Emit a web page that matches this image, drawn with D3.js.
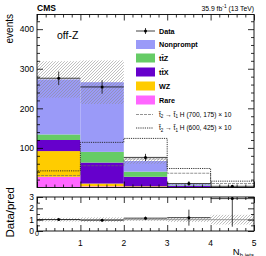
<!DOCTYPE html>
<html lang="en">
<head>
  <meta charset="utf-8">
  <title>off-Z N b jets</title>
  <style>
    body { margin: 0; background: #fff; }
    svg { display: block; font-family: "Liberation Sans", Arial, sans-serif; }
    .axis text { font-size: 8.5px; fill: #000; }
    .axis line { stroke: #000; stroke-width: 0.8; }
  </style>
</head>
<body>
  <svg id="chart" width="266" height="256"></svg>

  <script src="https://d3js.org/d3.v7.min.js"></script>
  <script>
    // bins in N b jets: [0,1), [1,2), ... [4,5)
    const binEdges = [0, 1, 2, 3, 4];
    const rare      = [27, 3, 1, 0.5, 0.05];
    const wz        = [65, 7, 2, 0.5, 0.05];
    const ttx       = [28, 53, 24, 3, 0.4];
    const ttz       = [14, 27, 13, 1.5, 0.2];
    const nonprompt = [139, 176, 27, 3, 0.35];
    const totalUnc  = [46, 55, 7, 1.7, 0.45];

    const dataVals  = [276, 254, 76, 10, 3];
    const dataErrLo = [17, 17, 9, 6, 2.6];
    const dataErrHi = [17, 17, 9, 6, 3.5];

    // signal x10
    const sig700 = [30, 55, 72, 36, 10];
    const sig600 = [42, 114, 124, 48, 16];

    const legendNames = ["Nonprompt", "ttZ", "ttX", "WZ", "Rare"];
    const colors = ["#9a9af8", "#66cc66", "#6600cc", "#ffcc00", "#ff66ff"];

    const svg = d3.select("#chart");

    const x0 = 37, x1 = 254;
    const top0 = 14.5, top1 = 187.5;
    const rat0 = 197, rat1 = 231;

    const x = d3.scaleLinear().domain([0, 5]).range([x0, x1]);
    const y = d3.scaleLinear().domain([0, 437]).range([top1, top0]);
    const yr = d3.scaleLinear().domain([0, 3]).range([rat1, rat0]);

    // hatch pattern for the uncertainty
    const defs = svg.append("defs");
    defs.append("pattern")
      .attr("id", "hatch")
      .attr("patternUnits", "userSpaceOnUse")
      .attr("width", 3).attr("height", 3)
      .append("path")
      .attr("d", "M-1,1 l2,-2 M0,3 l3,-3 M2,4 l2,-2")
      .attr("stroke", "#8c8c8c")
      .attr("stroke-width", 0.55);
    defs.append("clipPath").attr("id", "clipTop")
      .append("rect").attr("x", x0).attr("y", top0).attr("width", x1 - x0).attr("height", top1 - top0);
    defs.append("clipPath").attr("id", "clipRat")
      .append("rect").attr("x", x0).attr("y", rat0).attr("width", x1 - x0).attr("height", rat1 - rat0);

    // stack (bottom: Rare, WZ, ttX, ttZ, Nonprompt)
    const table = binEdges.map((b, i) => ({
      bin: b, Rare: rare[i], WZ: wz[i], ttX: ttx[i], ttZ: ttz[i], Nonprompt: nonprompt[i]
    }));
    const order = ["Rare", "WZ", "ttX", "ttZ", "Nonprompt"];
    const colorOf = d3.scaleOrdinal().domain(legendNames).range(colors);
    const series = d3.stack().keys(order)(table);
    const total = table.map(d => order.reduce((s, k) => s + d[k], 0));

    const gTop = svg.append("g").attr("clip-path", "url(#clipTop)");

    gTop.selectAll("g.layer")
      .data(series)
      .join("g")
      .attr("fill", d => colorOf(d.key))
      .selectAll("rect")
      .data(d => d)
      .join("rect")
      .attr("x", d => x(d.data.bin))
      .attr("width", d => x(d.data.bin + 1) - x(d.data.bin))
      .attr("y", d => y(d[1]))
      .attr("height", d => y(d[0]) - y(d[1]));

    // uncertainty band
    gTop.selectAll("rect.unc")
      .data(binEdges)
      .join("rect")
      .attr("class", "unc")
      .attr("x", b => x(b))
      .attr("width", b => x(b + 1) - x(b))
      .attr("y", (b, i) => y(total[i] + totalUnc[i]))
      .attr("height", (b, i) => y(total[i] - totalUnc[i]) - y(total[i] + totalUnc[i]))
      .attr("fill", "url(#hatch)");

    // step histograms for signals
    function stepPath(vals) {
      let p = `M${x(0)},${y(0)}`;
      vals.forEach((v, i) => { p += `L${x(i)},${y(v)}L${x(i + 1)},${y(v)}`; });
      p += `L${x(vals.length)},${y(0)}`;
      return p;
    }
    gTop.append("path")
      .attr("d", stepPath(sig700))
      .attr("fill", "none").attr("stroke", "#666")
      .attr("stroke-width", 0.7).attr("stroke-dasharray", "3,1");
    gTop.append("path")
      .attr("d", stepPath(sig600))
      .attr("fill", "none").attr("stroke", "#222")
      .attr("stroke-width", 0.9).attr("stroke-dasharray", "1.2,1");

    // data points
    const gData = gTop.append("g").attr("stroke", "#111").attr("stroke-width", 0.8);
    binEdges.forEach((b, i) => {
      gData.append("line")
        .attr("x1", x(b)).attr("x2", x(b + 1))
        .attr("y1", y(dataVals[i])).attr("y2", y(dataVals[i]));
      gData.append("line")
        .attr("x1", x(b + 0.5)).attr("x2", x(b + 0.5))
        .attr("y1", y(dataVals[i] - dataErrLo[i])).attr("y2", y(dataVals[i] + dataErrHi[i]));
      gData.append("circle")
        .attr("cx", x(b + 0.5)).attr("cy", y(dataVals[i])).attr("r", 1.5)
        .attr("fill", "#000").attr("stroke", "none");
    });

    // ratio panel
    const gRat = svg.append("g").attr("clip-path", "url(#clipRat)");
    gRat.selectAll("rect.unc")
      .data(binEdges)
      .join("rect")
      .attr("x", b => x(b))
      .attr("width", b => x(b + 1) - x(b))
      .attr("y", (b, i) => yr(1 + totalUnc[i] / total[i]))
      .attr("height", (b, i) => yr(1 - totalUnc[i] / total[i]) - yr(1 + totalUnc[i] / total[i]))
      .attr("fill", "url(#hatch)");
    gRat.append("line")
      .attr("x1", x0).attr("x2", x1).attr("y1", yr(1)).attr("y2", yr(1))
      .attr("stroke", "#888").attr("stroke-width", 0.8);
    const gRd = gRat.append("g").attr("stroke", "#111").attr("stroke-width", 0.8);
    binEdges.forEach((b, i) => {
      const r = dataVals[i] / total[i];
      gRd.append("line")
        .attr("x1", x(b)).attr("x2", x(b + 1))
        .attr("y1", yr(r)).attr("y2", yr(r));
      gRd.append("line")
        .attr("x1", x(b + 0.5)).attr("x2", x(b + 0.5))
        .attr("y1", yr((dataVals[i] - dataErrLo[i]) / total[i]))
        .attr("y2", yr((dataVals[i] + dataErrHi[i]) / total[i]));
      gRd.append("circle")
        .attr("cx", x(b + 0.5)).attr("cy", yr(r)).attr("r", 1.5)
        .attr("fill", "#000").attr("stroke", "none");
    });

    // ticks: inward on all four sides
    function ticksOnly(axisFn, scale, values, size) {
      return axisFn(scale).tickValues(values).tickSize(size).tickFormat("");
    }
    const xMinor = d3.range(0, 5.001, 0.2).filter(v => Math.abs(v - Math.round(v)) > 1e-6);
    const xMajor = [0, 1, 2, 3, 4, 5];

    function frame(yTop, yBot, yScale, yMajor, yMinor, labelFmt) {
      const g = svg.append("g").attr("class", "axis");
      g.append("g").attr("transform", `translate(0,${yBot})`).call(ticksOnly(d3.axisBottom, x, xMajor, -6));
      g.append("g").attr("transform", `translate(0,${yBot})`).call(ticksOnly(d3.axisBottom, x, xMinor, -3));
      g.append("g").attr("transform", `translate(0,${yTop})`).call(ticksOnly(d3.axisTop, x, xMajor, -6));
      g.append("g").attr("transform", `translate(0,${yTop})`).call(ticksOnly(d3.axisTop, x, xMinor, -3));
      g.append("g").attr("transform", `translate(${x0},0)`)
        .call(d3.axisLeft(yScale).tickValues(yMajor).tickSize(-6).tickPadding(3).tickFormat(labelFmt));
      g.append("g").attr("transform", `translate(${x0},0)`).call(ticksOnly(d3.axisLeft, yScale, yMinor, -3));
      g.append("g").attr("transform", `translate(${x1},0)`).call(ticksOnly(d3.axisRight, yScale, yMajor, -6));
      g.append("g").attr("transform", `translate(${x1},0)`).call(ticksOnly(d3.axisRight, yScale, yMinor, -3));
      g.selectAll(".domain").remove();
      g.append("rect")
        .attr("x", x0).attr("y", yTop).attr("width", x1 - x0).attr("height", yBot - yTop)
        .attr("fill", "none").attr("stroke", "#000").attr("stroke-width", 0.9);
      return g;
    }

    frame(top0, top1, y, [100, 200, 300, 400], d3.range(20, 437, 20).filter(v => v % 100), d3.format("d"));
    const ratAx = frame(rat0, rat1, yr, [0, 1, 2, 3], [0.5, 1.5, 2.5], d3.format("d"));
    ratAx.selectAll("text").attr("dy", "0.3em");

    // x tick labels under the ratio
    svg.append("g").selectAll("text")
      .data(xMajor)
      .join("text")
      .attr("x", v => x(v))
      .attr("y", v => v === 0 ? 236 : 246)
      .attr("text-anchor", "middle")
      .attr("font-size", v => v === 0 ? 7 : 8.5)
      .text(d => d);

    // titles
    svg.append("text").attr("x", 37).attr("y", 10.5)
      .attr("font-size", 8.5).attr("font-weight", "bold").text("CMS");
    const lumi = svg.append("text").attr("x", x1).attr("y", 10.5)
      .attr("font-size", 6.8).attr("text-anchor", "end");
    lumi.append("tspan").text("35.9 fb");
    lumi.append("tspan").attr("dy", -2.5).attr("font-size", 4.8).text("-1");
    lumi.append("tspan").attr("dy", 2.5).text(" (13 TeV)");

    svg.append("text")
      .attr("transform", "translate(13,14) rotate(-90)")
      .attr("text-anchor", "end").attr("font-size", 10).text("events");
    svg.append("text")
      .attr("transform", "translate(13.5,187) rotate(-90)")
      .attr("text-anchor", "end").attr("font-size", 11.5).text("Data/pred");

    svg.append("text").attr("x", 57).attr("y", 39)
      .attr("font-size", 10.5).text("off-Z");

    const nb = svg.append("text").attr("x", x1).attr("y", 254.5)
      .attr("text-anchor", "end").attr("font-size", 9.5);
    nb.append("tspan").text("N");
    nb.append("tspan").attr("dy", 2).attr("font-size", 6).text("b jets");

    // legend
    const lg = svg.append("g").attr("font-size", 7.2).attr("font-weight", "bold");
    const rowY = [31, 44.5, 58, 72, 86, 100, 114.5, 128];
    const sw0 = 136, sw1 = 155, tx = 159;

    lg.append("line").attr("x1", sw0).attr("x2", sw1).attr("y1", rowY[0]).attr("y2", rowY[0])
      .attr("stroke", "#111").attr("stroke-width", 0.8);
    lg.append("line").attr("x1", (sw0 + sw1) / 2).attr("x2", (sw0 + sw1) / 2)
      .attr("y1", rowY[0] - 3).attr("y2", rowY[0] + 3).attr("stroke", "#111").attr("stroke-width", 0.8);
    lg.append("circle").attr("cx", (sw0 + sw1) / 2).attr("cy", rowY[0]).attr("r", 1.5);
    lg.append("text").attr("x", tx).attr("y", rowY[0]).attr("dy", "0.35em").text("Data");

    const labelParts = {
      "Nonprompt": [["Nonprompt", false]],
      "ttZ": [["t", false], ["t", true], ["Z", false]],
      "ttX": [["t", false], ["t", true], ["X", false]],
      "WZ": [["WZ", false]],
      "Rare": [["Rare", false]]
    };
    legendNames.forEach((name, i) => {
      const yy = rowY[i + 1];
      lg.append("rect").attr("x", sw0).attr("y", yy - 4.5).attr("width", sw1 - sw0).attr("height", 9)
        .attr("fill", colorOf(name));
      const t = lg.append("text").attr("x", tx).attr("y", yy).attr("dy", "0.35em");
      labelParts[name].forEach(([s, bar]) => {
        t.append("tspan").text(bar ? s + "\u0304" : s);
      });
    });

    const sigLabels = [["700, 175", "#666", "3,1", 0.7], ["600, 425", "#222", "1.2,1", 0.9]];
    sigLabels.forEach(([mass, col, dash, w], i) => {
      const yy = rowY[6 + i];
      lg.append("line").attr("x1", sw0).attr("x2", sw1 - 2).attr("y1", yy).attr("y2", yy)
        .attr("stroke", col).attr("stroke-width", w).attr("stroke-dasharray", dash);
      const t = lg.append("text").attr("x", tx).attr("y", yy).attr("dy", "0.35em")
        .attr("font-weight", "normal").attr("font-size", 6.6);
      t.append("tspan").text("t\u0303");
      t.append("tspan").attr("dy", 1.5).attr("font-size", 4.5).text("2");
      t.append("tspan").attr("dy", -1.5).text(" \u2192 t\u0303");
      t.append("tspan").attr("dy", 1.5).attr("font-size", 4.5).text("1");
      t.append("tspan").attr("dy", -1.5).text(` H (${mass}) \u00d7 10`);
    });
  </script>
</body>
</html>
